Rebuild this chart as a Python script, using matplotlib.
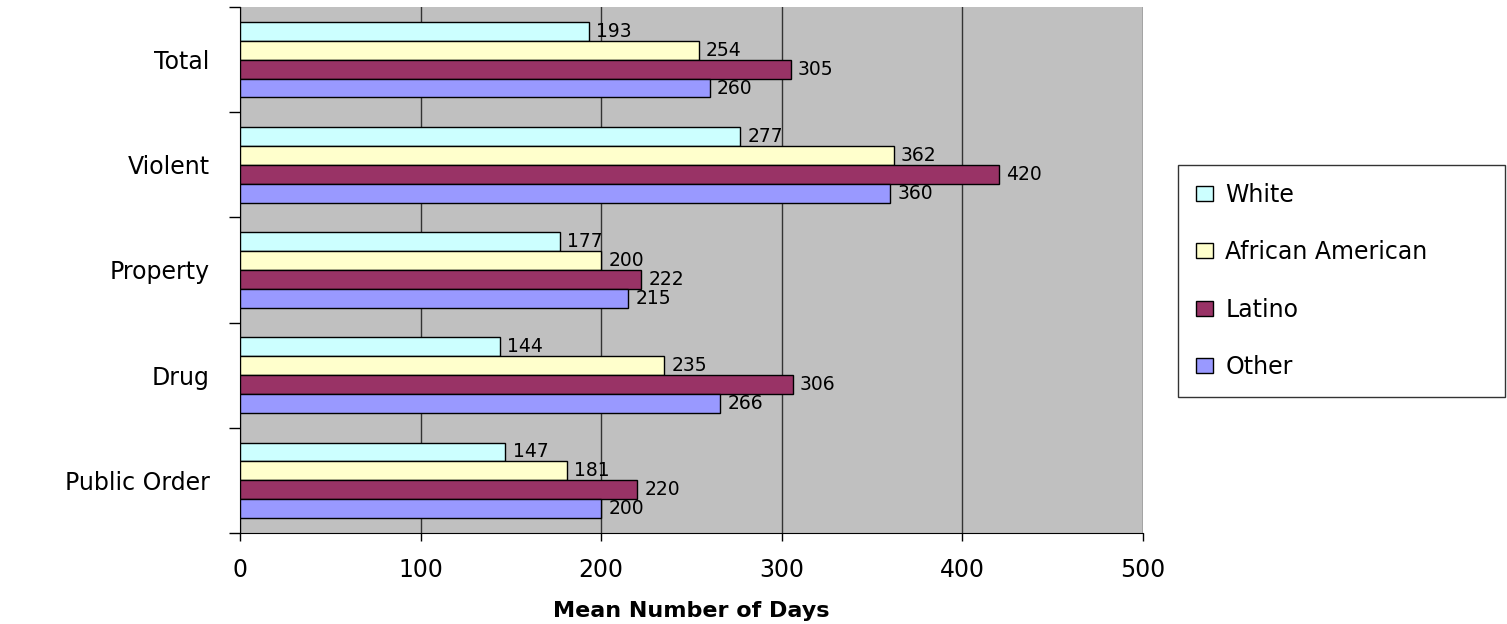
import numpy as np
import matplotlib
matplotlib.use("Agg")
import matplotlib.pyplot as plt

plt.rcParams['font.family'] = ['DejaVu Sans']

categories = ["Total", "Violent", "Property", "Drug", "Public Order"]
series_names = ["White", "African American", "Latino", "Other"]
white = [193, 277, 177, 144, 147]
african_american = [254, 362, 200, 235, 181]
latino = [305, 420, 222, 306, 220]
other = [260, 360, 215, 266, 200]
x_ticks = [0, 100, 200, 300, 400, 500]

series = [white, african_american, latino, other]
colors = ["#CCFFFF", "#FFFFCC", "#993366", "#9999FF"]

fig = plt.figure(figsize=(15.07, 6.24), dpi=100)
ax = fig.add_axes([240 / 1507, 1 - 533 / 624, 903 / 1507, 526 / 624])
ax.set_facecolor("#C0C0C0")

n = len(categories)
y = np.arange(n)
bar_h = 0.18
for i, (vals, col, name) in enumerate(zip(series, colors, series_names)):
    pos = y + (i - 1.5) * bar_h
    bars = ax.barh(pos, vals, height=bar_h, color=col, edgecolor="black",
                   linewidth=1.0, label=name, zorder=3)
    for b, v in zip(bars, vals):
        ax.text(v + 4, b.get_y() + b.get_height() / 2, f"{v}",
                va="center", ha="left", fontsize=13.5, zorder=4)

ax.set_xlim(0, 500)
ax.set_ylim(n - 0.5, -0.5)
ax.set_xticks(x_ticks)
ax.set_xticklabels([str(t) for t in x_ticks], fontsize=17)
ax.tick_params(axis="x", length=6, width=1, pad=12, direction="out")
ax.set_yticks(y)
ax.set_yticklabels(categories, fontsize=17)
ax.tick_params(axis="y", length=0, pad=22)
# category boundary ticks on the left
ax.set_yticks(np.arange(n + 1) - 0.5, minor=True)
ax.tick_params(axis="y", which="minor", length=8, width=1, direction="out")

ax.grid(axis="x", color="#333333", linewidth=1, zorder=1)
for side in ("top", "right"):
    ax.spines[side].set_visible(False)
ax.spines["left"].set_color("black")
ax.spines["bottom"].set_color("black")

ax.set_xlabel("Mean Number of Days", fontsize=16, fontweight="bold", labelpad=14)

leg = fig.legend(loc="upper left",
                 bbox_to_anchor=(1178 / 1507, 1 - 395 / 624, 327 / 1507, 230 / 624),
                 mode="expand",
                 fontsize=17, frameon=True, fancybox=False, edgecolor="black",
                 handlelength=0.75, handleheight=0.6, handletextpad=0.5,
                 labelspacing=1.42, borderpad=0.75, borderaxespad=0)
leg.get_frame().set_linewidth(1.0)

fig.savefig("out.png", dpi=100)
